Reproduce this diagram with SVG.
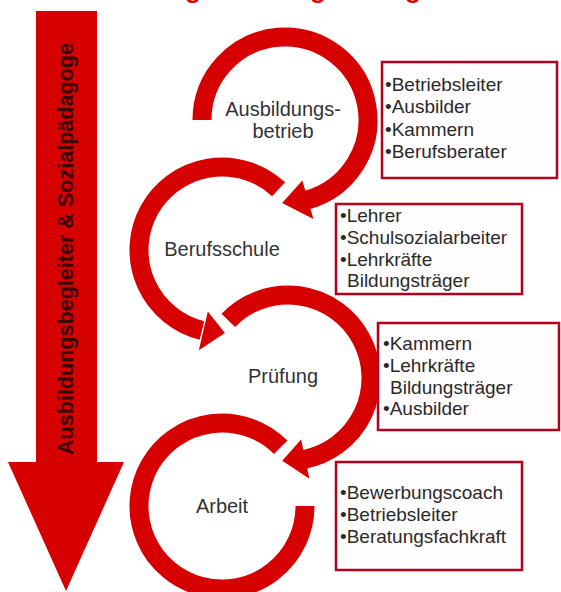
<svg xmlns="http://www.w3.org/2000/svg" width="561" height="592" viewBox="0 0 561 592">
<style>
.band{fill:none;stroke:#d60000;stroke-width:19;stroke-linecap:butt}
.head{fill:#d60000}
.lbl{font-family:"Liberation Sans",Arial,sans-serif;font-size:20px;fill:#333;text-anchor:middle}
.box{fill:#fffdfd;stroke:#b5001c;stroke-width:2.5}
.item{font-family:"Liberation Sans",Arial,sans-serif;font-size:19px;fill:#2a2a2a}
.side{font-family:"Liberation Sans",Arial,sans-serif;font-size:22px;font-weight:bold;fill:#3a0606;text-anchor:middle}
.title{font-family:"Liberation Sans",Arial,sans-serif;font-size:26px;font-weight:bold;fill:#e00000}
</style>
<rect width="561" height="592" fill="#ffffff"/>
<text class="title" y="-2.5"><tspan x="185">g</tspan><tspan x="310">g</tspan><tspan x="405">g</tspan></text>

<g id="flow-arrow">
<polygon points="36,11 97,11 97,462 124,462 66,591 8,462 36,462" fill="#d60000"/>
<text class="side" transform="translate(73,249) rotate(-90)" textLength="412" lengthAdjust="spacingAndGlyphs">Ausbildungsbegleiter &amp; Sozialpädagoge</text>
</g>

<g id="connectors">
<path class="band" d="M202 120 A83 83 0 1 1 306.48 200.17"/>
<polygon class="head" points="302.36,180.56 282.10,202.95 313.39,219.01"/>
<path class="band" d="M278.61 189.30 A83 83 0 1 0 201.92 330.53"/>
<polygon class="head" points="207.83,311.38 224.90,332.95 198.83,350.36"/>
<path class="band" d="M228.30 320.34 A83 83 0 1 1 303.84 459.47"/>
<polygon class="head" points="301.10,439.62 282.21,460.80 309.41,478.75"/>
<path class="band" d="M280.69 447.31 A83 83 0 1 0 305 506"/>
</g>

<g id="node-ausbildungsbetrieb">
<text class="lbl" x="283" y="116">Ausbildungs-</text>
<text class="lbl" x="283" y="138">betrieb</text>
</g>
<g id="node-berufsschule">
<text class="lbl" x="222" y="256">Berufsschule</text>
</g>
<g id="node-pruefung">
<text class="lbl" x="283" y="383">Prüfung</text>
</g>
<g id="node-arbeit">
<text class="lbl" x="222" y="513">Arbeit</text>
</g>

<g id="box-ausbildungsbetrieb">
<rect class="box" x="382" y="62" width="175" height="116"/>
<text class="item" x="385" y="90.5">•Betriebsleiter</text>
<text class="item" x="385" y="113">•Ausbilder</text>
<text class="item" x="385" y="135.5">•Kammern</text>
<text class="item" x="385" y="158">•Berufsberater</text>
</g>
<g id="box-berufsschule">
<rect class="box" x="336" y="204" width="186" height="90"/>
<text class="item" x="340" y="222">•Lehrer</text>
<text class="item" x="340" y="244">•Schulsozialarbeiter</text>
<text class="item" x="340" y="266">•Lehrkräfte</text>
<text class="item" x="347" y="287">Bildungsträger</text>
</g>
<g id="box-pruefung">
<rect class="box" x="378" y="323" width="181" height="107"/>
<text class="item" x="383" y="350">•Kammern</text>
<text class="item" x="383" y="372">•Lehrkräfte</text>
<text class="item" x="390" y="393.5">Bildungsträger</text>
<text class="item" x="383" y="415">•Ausbilder</text>
</g>
<g id="box-arbeit">
<rect class="box" x="336" y="462" width="186" height="108"/>
<text class="item" x="340" y="499">•Bewerbungscoach</text>
<text class="item" x="340" y="521">•Betriebsleiter</text>
<text class="item" x="340" y="543">•Beratungsfachkraft</text>
</g>
</svg>
